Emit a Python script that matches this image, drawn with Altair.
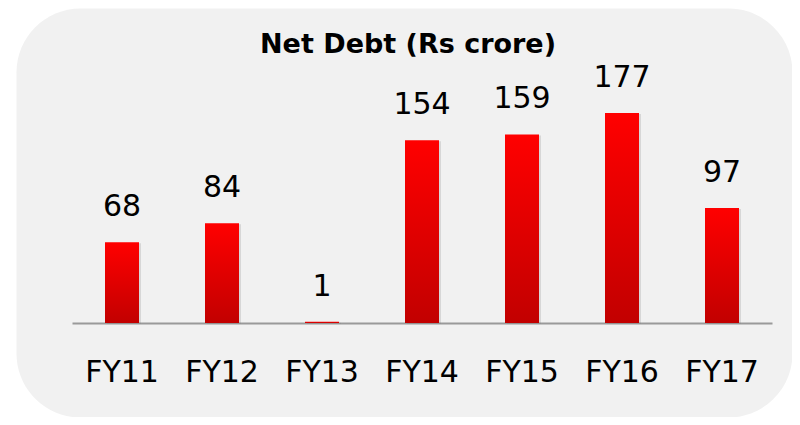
import altair as alt
import pandas as pd

years = ["FY11", "FY12", "FY13", "FY14", "FY15", "FY16", "FY17"]
net_debt = [68, 84, 1, 154, 159, 177, 97]

df = pd.DataFrame({"year": years, "debt": net_debt})

FONT = "DejaVu Sans"

x_enc = alt.X(
    "year:N",
    sort=years,
    title=None,
    scale=alt.Scale(range=[56, 756], paddingInner=0.66, paddingOuter=0.33),
    axis=alt.Axis(
        orient="bottom",
        offset=-94,
        domainColor="#9a9a9a",
        domainWidth=2,
        ticks=False,
        labelAngle=0,
        labelFont=FONT,
        labelFontSize=30,
        labelColor="#000000",
        labelPadding=34,
        labelBaseline="top",
        grid=False,
    ),
)
y_enc = alt.Y(
    "debt:Q",
    title=None,
    scale=alt.Scale(domain=[-79.3, 265.6], nice=False, zero=False),
    axis=None,
)

base = alt.Chart(df).encode(x=x_enc, y=y_enc)

shadow = base.mark_bar(color="#7a7a7a", opacity=0.22, xOffset=2, yOffset=1)

grad = alt.LinearGradient(
    gradient="linear",
    stops=[
        alt.GradientStop(color="#ff0000", offset=0),
        alt.GradientStop(color="#c20000", offset=1),
    ],
    x1=0, x2=0, y1=0, y2=1,
)
bars = base.mark_bar(color=grad)

labels = base.mark_text(
    font=FONT, fontSize=30, color="#000000", baseline="alphabetic", dy=-26
).encode(text=alt.Text("debt:Q", format="d"))

chart = (
    alt.layer(shadow, bars, labels)
    .properties(
        width=776,
        height=409,
        title=alt.TitleParams(
            "Net Debt (Rs crore)",
            font=FONT,
            fontSize=27,
            fontWeight=600,
            color="#000000",
            anchor="middle",
            offset=-51,
            dx=4,
        ),
        view=alt.ViewBackground(fill="#f1f1f1", stroke="transparent", cornerRadius=64),
        autosize=alt.AutoSizeParams(type="none"),
        padding={"left": 8, "top": 0, "right": 0, "bottom": 0},
    )
    .configure_view(fill="#f1f1f1", stroke="transparent", cornerRadius=64)
    .configure(background="#ffffff")
)

chart.save("out.html", embed_options={"renderer": "svg", "actions": False})
